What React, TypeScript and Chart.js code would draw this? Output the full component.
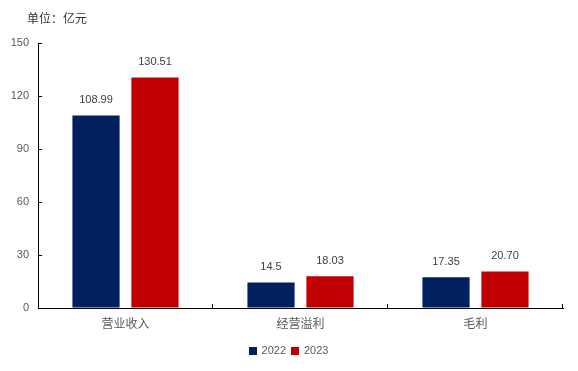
import React, { useEffect, useRef } from "react";
import { Chart, registerables } from "chart.js";

Chart.register(...registerables);

const categories = ["营业收入", "经营溢利", "毛利"];
const series2022 = [108.99, 14.5, 17.35];
const series2023 = [130.51, 18.03, 20.7];
const labels2022 = ["108.99", "14.5", "17.35"];
const labels2023 = ["130.51", "18.03", "20.70"];
const seriesNames = ["2022", "2023"];
const yTicks = [0, 30, 60, 90, 120, 150];
const unitText = "单位：亿元";

const FONT = "'Liberation Sans', Arial, 'Noto Sans CJK SC', sans-serif";

const extras = {
  id: "extras",
  afterDraw(chart: any) {
    const ctx = chart.ctx;
    const ca = chart.chartArea;
    const y = chart.scales.y;
    const x = chart.scales.x;
    ctx.save();
    // inward ticks
    ctx.strokeStyle = "#000";
    ctx.lineWidth = 1;
    yTicks.forEach((v) => {
      const py = Math.round(y.getPixelForValue(v)) + 0.5;
      ctx.beginPath();
      ctx.moveTo(ca.left, py);
      ctx.lineTo(ca.left + 4, py);
      ctx.stroke();
    });
    const n = categories.length;
    for (let i = 1; i <= n; i++) {
      const px = Math.round(x.left + (i * (x.right - x.left)) / n) - 0.5;
      ctx.beginPath();
      ctx.moveTo(px, ca.bottom);
      ctx.lineTo(px, ca.bottom - 4);
      ctx.stroke();
    }
    // data labels
    ctx.fillStyle = "#404040";
    ctx.font = `11px ${FONT}`;
    ctx.textAlign = "center";
    ctx.textBaseline = "middle";
    const lbls = [labels2022, labels2023];
    chart.data.datasets.forEach((ds: any, di: number) => {
      const meta = chart.getDatasetMeta(di);
      meta.data.forEach((bar: any, i: number) => {
        ctx.fillText(lbls[di][i], bar.x, bar.y - 15.5);
      });
    });
    // unit
    ctx.textAlign = "left";
    ctx.fillStyle = "#333333";
    ctx.font = `12px ${FONT}`;
    ctx.fillText(unitText, 27, 20);
    // legend
    ctx.font = `11px ${FONT}`;
    const ds = chart.data.datasets;
    const box = 8;
    const gapBT = 5;
    const gapItems = 5;
    const widths = ds.map((d: any) => box + gapBT + ctx.measureText(d.label).width);
    const total = widths.reduce((a: number, b: number) => a + b, 0) + gapItems * (ds.length - 1);
    let lx = 288.5 - total / 2;
    const ly = 351;
    ds.forEach((d: any, i: number) => {
      ctx.fillStyle = d.backgroundColor;
      ctx.fillRect(Math.round(lx), ly - 4, box, box);
      ctx.fillStyle = "#595959";
      ctx.textBaseline = "middle";
      ctx.fillText(d.label, lx + box + gapBT, ly);
      lx += widths[i] + gapItems;
    });
    ctx.restore();
  },
};

export default function App() {
  const ref = useRef<HTMLCanvasElement | null>(null);
  useEffect(() => {
    if (!ref.current) return;
    const chart = new Chart(ref.current, {
      type: "bar",
      data: {
        labels: categories,
        datasets: [
          {
            label: seriesNames[0],
            data: series2022,
            backgroundColor: "#002060",
            categoryPercentage: 0.674,
            barPercentage: 0.8,
          },
          {
            label: seriesNames[1],
            data: series2023,
            backgroundColor: "#C00000",
            categoryPercentage: 0.674,
            barPercentage: 0.8,
          },
        ],
      },
      options: {
        animation: false,
        responsive: false,
        maintainAspectRatio: false,
        layout: { padding: { top: 43, right: 15, left: 0, bottom: 33 } },
        plugins: {
          legend: { display: false },
          tooltip: { enabled: false },
          title: { display: false },
        },
        scales: {
          x: {
            grid: { display: false, drawTicks: false },
            border: { display: true, color: "#000", width: 1 },
            ticks: {
              padding: 9,
              color: "#595959",
              font: { size: 12, family: FONT },
            },
            afterFit(s: any) {
              s.height = 30;
            },
          },
          y: {
            min: 0,
            max: 150,
            grid: { display: true, drawOnChartArea: false, drawTicks: false },
            border: { display: true, color: "#000", width: 1 },
            ticks: {
              stepSize: 30,
              padding: 9,
              color: "#595959",
              font: { size: 11, family: FONT },
            },
            afterFit(s: any) {
              s.width = 38;
            },
          },
        },
      },
      plugins: [extras],
    });
    return () => chart.destroy();
  }, []);
  return (
    <div style={{ position: "fixed", left: 0, top: 0, width: 578, height: 371, background: "#fff" }}>
      <canvas ref={ref} width={578} height={371} style={{ width: 578, height: 371, display: "block" }} />
    </div>
  );
}
